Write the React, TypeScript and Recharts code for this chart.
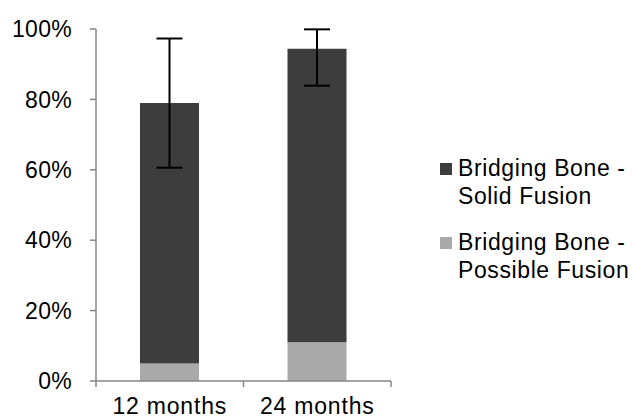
import { BarChart, Bar, XAxis, YAxis, ErrorBar } from 'recharts';

const categories = ['12 months', '24 months'];
const possibleFusion = [5, 11];
const solidFusion = [74, 83.4];
const errorLow = [18.4, 10.5];
const errorHigh = [18.3, 5.5];
const yTicks = [0, 20, 40, 60, 80, 100];

const seriesNames = ['Bridging Bone - Solid Fusion', 'Bridging Bone - Possible Fusion'];
const DARK = '#3d3d3d';
const LIGHT = '#a9a9a9';
const AXIS = '#868686';
const FONT = '"Liberation Sans", Arial, sans-serif';

const W = 633;
const H = 419;
const M = { top: 29, right: 242, left: 0, bottom: 0 };
const Y_W = 96;
const X_H = 38;
const LABEL_GAP = 17;
// band width of each category, used only for the separator ticks
const BAND = (W - M.left - M.right - Y_W) / categories.length;

const data = categories.map((name, i) => ({
    name,
    possible: possibleFusion[i],
    solid: solidFusion[i],
    err: [errorLow[i], errorHigh[i]],
}));

// Excel-style category axis: tick marks sit between the categories, labels in the middle
function CategoryTick(props: any) {
    const { x, y, payload, index } = props;
    const axisY = y - LABEL_GAP;
    const left = x - BAND / 2;
    const right = x + BAND / 2;
    return (
        <g>
            <line x1={left} x2={left} y1={axisY} y2={axisY + 6} stroke={AXIS} strokeWidth={1.5} />
            {index === categories.length - 1 && (
                <line x1={right} x2={right} y1={axisY} y2={axisY + 6} stroke={AXIS} strokeWidth={1.5} />
            )}
            <text x={x} y={y} dy="0.71em" textAnchor="middle" fill="#000" fontSize={23} fontFamily={FONT} letterSpacing={0.8}>
                {payload.value}
            </text>
        </g>
    );
}

function FusionLegend() {
    const items = [
        { color: DARK, lines: ['Bridging Bone -', 'Solid Fusion'] },
        { color: LIGHT, lines: ['Bridging Bone -', 'Possible Fusion'] },
    ];
    return (
        <div style={{ position: 'absolute', left: 440, top: 154, width: 193, fontFamily: FONT, fontSize: 23, letterSpacing: 0.6, lineHeight: '28px', color: '#000' }}>
            {items.map((item, i) => (
                <div key={i} style={{ position: 'relative', paddingLeft: 18, marginBottom: 18 }} title={seriesNames[i]}>
                    <span style={{ position: 'absolute', left: 0, top: 9, width: 12, height: 12, background: item.color }} />
                    {item.lines.map((l) => (
                        <div key={l} style={{ whiteSpace: 'nowrap' }}>{l}</div>
                    ))}
                </div>
            ))}
        </div>
    );
}

export default function App() {
    return (
        <div style={{ position: 'absolute', left: 0, top: 0, width: W, height: H, background: '#fff' }}>
            <BarChart width={W} height={H} data={data} margin={M} barSize={59}>
                <XAxis
                    dataKey="name"
                    height={X_H}
                    axisLine={{ stroke: AXIS, strokeWidth: 1.5 }}
                    tickLine={false}
                    tickSize={0}
                    tickMargin={LABEL_GAP}
                    tick={<CategoryTick />}
                />
                <YAxis
                    width={Y_W}
                    domain={[0, 100]}
                    ticks={yTicks}
                    tickFormatter={(v) => `${v}%`}
                    axisLine={{ stroke: AXIS, strokeWidth: 1.5 }}
                    tickLine={{ stroke: AXIS, strokeWidth: 1.5 }}
                    tickSize={6}
                    tickMargin={18}
                    tick={{ fill: '#000', fontSize: 23, fontFamily: FONT, letterSpacing: 0.3 }}
                />
                <Bar dataKey="possible" stackId="a" fill={LIGHT} name={seriesNames[1]} isAnimationActive={false} />
                <Bar dataKey="solid" stackId="a" fill={DARK} name={seriesNames[0]} isAnimationActive={false}>
                    <ErrorBar dataKey="err" width={13} stroke="#000" strokeWidth={2} direction="y" />
                </Bar>
            </BarChart>
            <FusionLegend />
        </div>
    );
}
